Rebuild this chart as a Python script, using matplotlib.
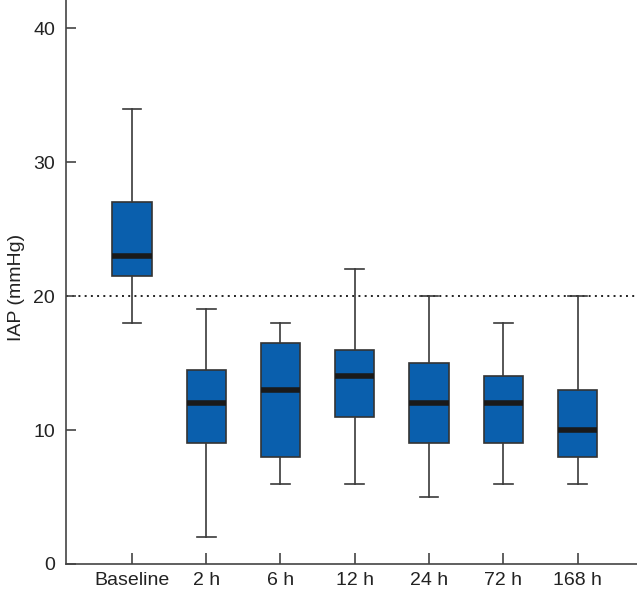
import numpy as np
import matplotlib.pyplot as plt

plt.rcParams['font.family'] = ['Liberation Sans', 'DejaVu Sans']

# Box statistics
labels = ['Baseline', '2 h', '6 h', '12 h', '24 h', '72 h', '168 h']
whisker_low = [18, 2, 6, 6, 5, 6, 6]
q1 = [21.5, 9, 8, 11, 9, 9, 8]
medians = [23, 12, 13, 14, 12, 12, 10]
q3 = [27, 14.5, 16.5, 16, 15, 14, 13]
whisker_high = [34, 19, 18, 22, 20, 18, 20]

stats = []
for i, lab in enumerate(labels):
    stats.append({'label': lab, 'whislo': whisker_low[i], 'q1': q1[i],
                  'med': medians[i], 'q3': q3[i], 'whishi': whisker_high[i]})

fig = plt.figure(figsize=(6.37, 5.91), dpi=100)
ax = fig.add_axes([0.1036, 0.0457, 0.8964, 0.9543])

line_col = '#3a3a3a'
ax.bxp(stats, positions=np.arange(1, 8), widths=0.53, patch_artist=True,
       showfliers=False,
       boxprops=dict(facecolor='#0a5fad', edgecolor='#333333', linewidth=1.2),
       medianprops=dict(color='#1a1a1a', linewidth=4, solid_capstyle='butt'),
       whiskerprops=dict(color=line_col, linewidth=1.2),
       capprops=dict(color=line_col, linewidth=1.2),
       capwidths=0.25)

# threshold line
ax.axhline(20, color='#222222', linestyle=(0, (1, 2.2)), linewidth=1.4, zorder=0)

ax.set_xlim(0.112, 7.8)
ax.set_ylim(0, 42.1)
ax.set_yticks([0, 10, 20, 30, 40])
ax.set_xticks(np.arange(1, 8))
ax.set_xticklabels(labels)
ax.set_ylabel('IAP (mmHg)', fontsize=14, color='#222222')
ax.yaxis.set_label_coords(-0.072, 0.49)

for s in ['top', 'right']:
    ax.spines[s].set_visible(False)
for s in ['left', 'bottom']:
    ax.spines[s].set_color('#444444')
    ax.spines[s].set_linewidth(1.2)

ax.tick_params(axis='y', direction='in', length=7.5, width=1.2, color='#444444',
               labelsize=14, labelcolor='#222222', pad=8)
ax.tick_params(axis='x', direction='in', length=8, width=1.2, color='#444444',
               labelsize=14, labelcolor='#222222', pad=6)

fig.savefig('out.png', dpi=100)
